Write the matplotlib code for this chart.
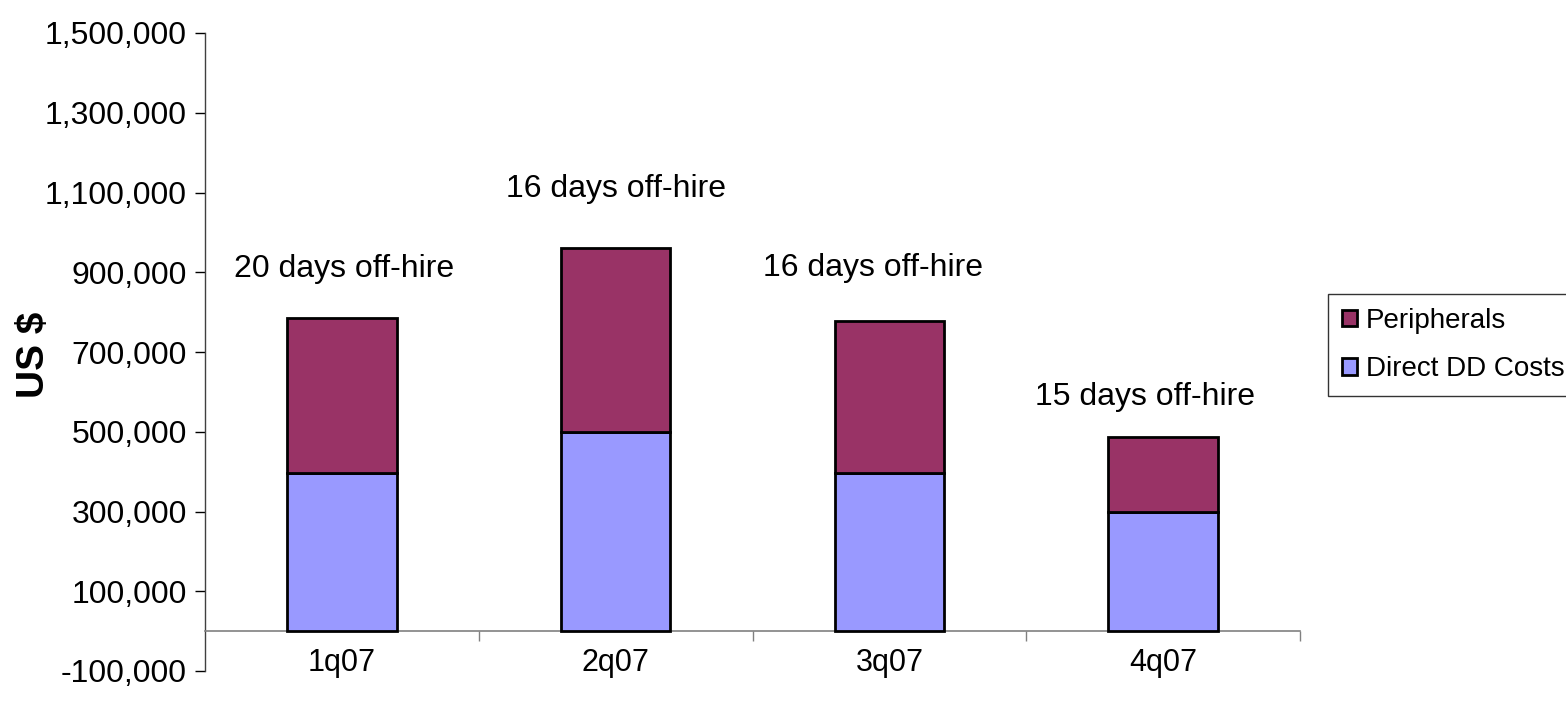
import matplotlib
matplotlib.use("Agg")
import matplotlib.pyplot as plt
from matplotlib.ticker import FuncFormatter, FixedLocator

categories = ["1q07", "2q07", "3q07", "4q07"]
direct_dd_costs = [396000, 500000, 396000, 300000]
peripherals = [389000, 462000, 381000, 187000]
notes = ["20 days off-hire", "16 days off-hire", "16 days off-hire", "15 days off-hire"]
note_offsets_px = [(2, 49), (0, 59), (-16, 53), (-18, 40)]
yticks = list(range(-100000, 1500001, 200000))

plt.rcParams['font.family'] = ['Liberation Sans', 'DejaVu Sans']

fig = plt.figure(figsize=(15.66, 7.02), dpi=100)
ax = fig.add_axes([205/1566, 1-671/702, (1300-205)/1566, (671-33)/702])

x = list(range(len(categories)))
c_direct = "#9999FF"
c_periph = "#993366"
b1 = ax.bar(x, direct_dd_costs, width=0.4, color=c_direct, edgecolor="black", linewidth=2, label="Direct DD Costs", zorder=3)
b2 = ax.bar(x, peripherals, width=0.4, bottom=direct_dd_costs, color=c_periph, edgecolor="black", linewidth=2, label="Peripherals", zorder=3)

ax.set_xlim(-0.5, len(categories) - 0.5)
ax.set_ylim(-100000, 1500000)
ax.set_yticks(yticks)
ax.yaxis.set_major_formatter(FuncFormatter(lambda v, p: f"{int(v):,}"))
ax.tick_params(axis='y', direction='out', length=7, width=1, labelsize=23, pad=6, colors='black')

ax.spines['top'].set_visible(False)
ax.spines['right'].set_visible(False)
ax.spines['bottom'].set_position(('data', 0))
ax.spines['bottom'].set_color('#808080')
ax.spines['bottom'].set_linewidth(1.2)
ax.spines['left'].set_color('#404040')
ax.spines['left'].set_linewidth(1)

ax.set_xticks(x)
ax.set_xticklabels(categories)
ax.tick_params(axis='x', which='major', length=0, labelsize=22, pad=12)
ax.xaxis.set_minor_locator(FixedLocator([i + 0.5 for i in x]))
ax.tick_params(axis='x', which='minor', length=7, width=1, color='#808080', direction='out')

for xi, d, p, note, off in zip(x, direct_dd_costs, peripherals, notes, note_offsets_px):
    ax.annotate(note, xy=(xi, d + p), xytext=off, textcoords='offset pixels',
                ha='center', va='center', fontsize=23)

ax.set_ylabel("US $", fontsize=28, fontweight='bold')
ax.yaxis.set_label_coords((52 - 205) / 1095, (671 - 355) / 638)

leg = ax.legend(handles=[b2, b1], labels=["Peripherals", "Direct DD Costs"],
                loc='center left', bbox_to_anchor=((1328-205)/1095, (671-345)/638),
                fontsize=20, frameon=True, fancybox=False, edgecolor='black',
                handlelength=0.55, handleheight=0.55, handletextpad=0.3,
                borderpad=0.5, labelspacing=0.8, borderaxespad=0)
leg.get_frame().set_linewidth(1)

fig.savefig("out.png", dpi=100)
